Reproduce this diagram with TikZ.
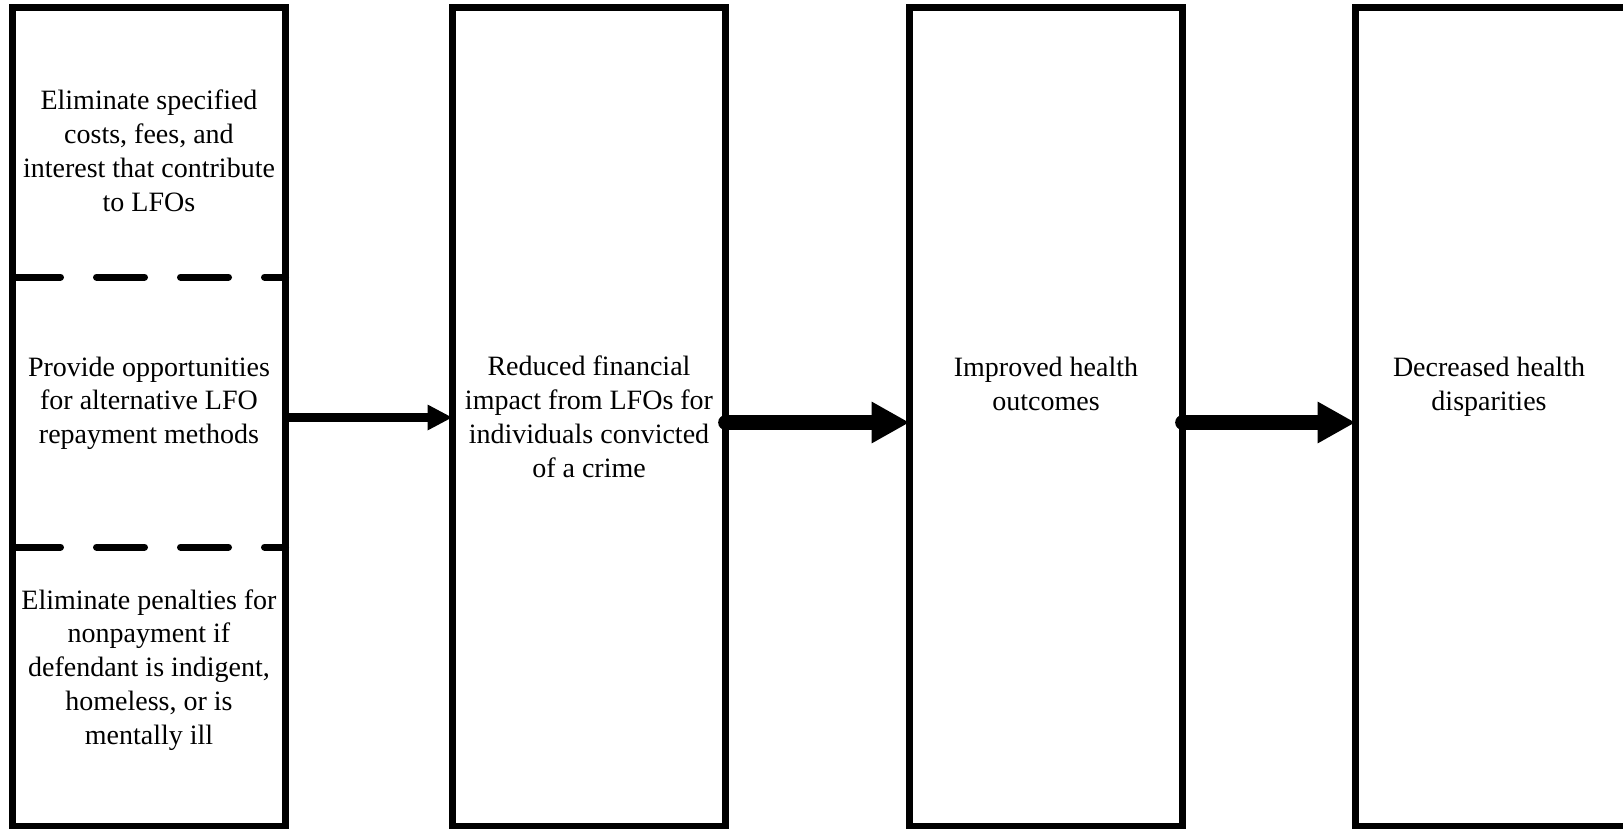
\documentclass[tikz,border=0pt]{standalone}
\usepackage{fontspec}
\setmainfont{Liberation Serif}
\usetikzlibrary{arrows.meta}
\tikzset{
  box/.style={draw=black, line width=5.25pt, minimum width=204.75pt, minimum height=614.25pt, inner sep=0pt, outer sep=0pt},
  lbl/.style={align=center, anchor=base, inner sep=0pt, font=\fontsize{21}{25.3}\selectfont},
  dashline/.style={line width=5.25pt, line cap=round, dash pattern=on 36pt off 27pt},
  thinarrow/.style={line width=6.5pt, -{Triangle[length=18.75pt,width=18pt]}},
  thickarrow/.style={line width=11pt, line cap=round, -{Triangle[length=28.5pt,width=29.25pt]}}
}
\begin{document}
\begin{tikzpicture}[x=0.75pt,y=-0.75pt]
\useasboundingbox (0,0) rectangle (1623,828);
\clip (0,0) rectangle (1623,828);
\node[box] (box1) at (149,417) {};
\node[box] (box2) at (589,417) {};
\node[box] (box3) at (1046,417) {};
\node[box] (box4) at (1492,417) {};
\coordinate (d1a) at (12.5,277);
\coordinate (d1b) at (285.5,277);
\coordinate (d2a) at (12.5,547);
\coordinate (d2b) at (285.5,547);
\draw[dashline] (d1a) -- (d1b);
\draw[dashline] (d2a) -- (d2b);
\node[lbl] (t1) at (149,211) {Eliminate specified\\costs, fees, and\\interest that contribute\\to LFOs};
\node[lbl] (t2) at (149,443.5) {Provide opportunities\\for alternative LFO\\repayment methods};
\node[lbl] (t3) at (149,744) {Eliminate penalties for\\nonpayment if\\defendant is indigent,\\homeless, or is\\mentally ill};
\node[lbl] (t4) at (589,477) {Reduced financial\\impact from LFOs for\\individuals convicted\\of a crime};
\node[lbl] (t5) at (1046,410) {Improved health\\outcomes};
\node[lbl] (t6) at (1489,410) {Decreased health\\disparities};
\coordinate (a1) at (285.5,417.5);
\coordinate (a2) at (725.5,422.5);
\coordinate (a3) at (1182.5,422.5);
\draw[thinarrow] (a1) -- (box2.west |- a1);
\draw[thickarrow] (a2) -- (box3.west |- a2);
\draw[thickarrow] (a3) -- (box4.west |- a3);
\end{tikzpicture}
\end{document}
